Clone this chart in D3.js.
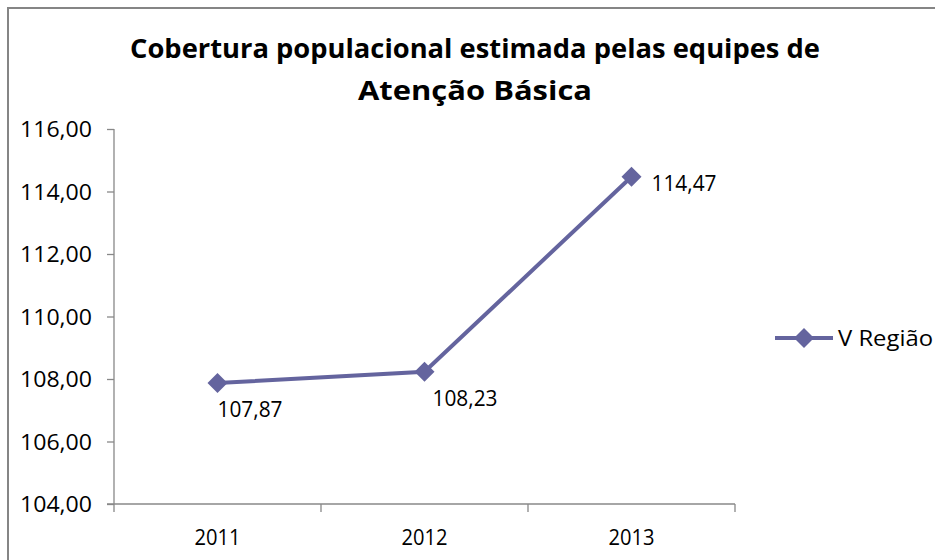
<!DOCTYPE html>
<html>
<head>
<meta charset="utf-8">
<script src="https://d3js.org/d3.v7.min.js"></script>
<style>
  html, body { margin:0; padding:0; background:#fff; }
  svg text { font-family: "Open Sans", "DejaVu Sans", sans-serif; fill:#000; }
</style>
</head>
<body>
<svg width="935" height="560"></svg>
<script>
// data
var years = ["2011", "2012", "2013"];
var values = [107.87, 108.23, 114.47];
var yTicks = [104, 106, 108, 110, 112, 114, 116];
var seriesName = "V Região";
var titleLines = ["Cobertura populacional estimada pelas equipes de", "Atenção Básica"];

var lineColor = "#64649e";
var svg = d3.select("svg");

// chart border
svg.append("rect")
  .attr("x", 8).attr("y", 8)
  .attr("width", 940).attr("height", 570)
  .attr("fill", "none")
  .attr("stroke", "#858585")
  .attr("stroke-width", 2);

// title
svg.selectAll(".title").data(titleLines).enter().append("text")
  .attr("class", "title")
  .attr("x", 475)
  .attr("y", function(d, i) { return 58 + i * 42; })
  .attr("text-anchor", "middle")
  .attr("font-size", 27)
  .attr("font-weight", "bold")
  .attr("textLength", function(d, i) { return i == 0 ? 690 : 234; })
  .attr("lengthAdjust", "spacingAndGlyphs")
  .text(function(d) { return d; });

var x = d3.scaleBand().domain(years).range([114, 735]);
var y = d3.scaleLinear().domain([104, 116]).range([504, 129]);

var fmt = function(v) { return d3.format(".2f")(v).replace(".", ","); };

// y axis
var ya = svg.append("g")
  .attr("transform", "translate(114,0)")
  .call(d3.axisLeft(y).tickValues(yTicks).tickFormat(fmt).tickSize(7).tickPadding(15));
ya.select(".domain").attr("stroke", "#888").attr("stroke-width", 1.3).attr("d", "M0,129V504");
ya.selectAll(".tick line").attr("stroke", "#888").attr("stroke-width", 1.3);
ya.selectAll(".tick text")
  .attr("font-size", 22)
  .attr("dy", "0.36em")
  .attr("x", -22)
  .attr("textLength", 72)
  .attr("lengthAdjust", "spacingAndGlyphs")
  .attr("fill", "#000");

// x axis
var xa = svg.append("g")
  .attr("transform", "translate(0,504)")
  .call(d3.axisBottom(x).tickSize(0).tickPadding(33));
xa.select(".domain").attr("stroke", "#888").attr("stroke-width", 1.3).attr("d", "M107,0H735");
xa.selectAll(".tick text")
  .attr("font-size", 22)
  .attr("dy", "0.36em")
  .attr("textLength", 46)
  .attr("lengthAdjust", "spacingAndGlyphs")
  .attr("fill", "#000");
// category separator ticks
xa.selectAll(".sep").data(years.concat(["end"])).enter().append("line")
  .attr("class", "sep")
  .attr("x1", function(d, i) { return i < years.length ? x(d) : x.range()[1]; })
  .attr("x2", function(d, i) { return i < years.length ? x(d) : x.range()[1]; })
  .attr("y1", 0).attr("y2", 8)
  .attr("stroke", "#888").attr("stroke-width", 1.3);

var cx = function(d, i) { return x(years[i]) + x.bandwidth() / 2; };

// line
var line = d3.line()
  .x(function(d, i) { return cx(d, i); })
  .y(function(d) { return y(d); });
svg.append("path")
  .datum(values)
  .attr("d", line)
  .attr("fill", "none")
  .attr("stroke", lineColor)
  .attr("stroke-width", 4);

var diamond = function(px, py) {
  return "M" + px + "," + (py - 10) + "L" + (px + 10) + "," + py + "L" + px + "," + (py + 10) + "L" + (px - 10) + "," + py + "Z";
};

svg.selectAll(".pt").data(values).enter().append("path")
  .attr("class", "pt")
  .attr("d", function(d, i) { return diamond(cx(d, i), y(d)); })
  .attr("fill", lineColor);

// data labels
var labelOff = [[0, 26], [8, 26], [20, 6]];
svg.selectAll(".lbl").data(values).enter().append("text")
  .attr("class", "lbl")
  .attr("x", function(d, i) { return cx(d, i) + labelOff[i][0]; })
  .attr("y", function(d, i) { return y(d) + labelOff[i][1]; })
  .attr("dy", "0.36em")
  .attr("font-size", 22)
  .attr("textLength", 65)
  .attr("lengthAdjust", "spacingAndGlyphs")
  .text(function(d) { return fmt(d); });

// legend
var lg = svg.append("g").attr("transform", "translate(775,338)");
lg.append("line").attr("x1", 0).attr("x2", 58).attr("y1", 0).attr("y2", 0)
  .attr("stroke", lineColor).attr("stroke-width", 4);
lg.append("path").attr("d", diamond(29, 0)).attr("fill", lineColor);
lg.append("text").attr("x", 63).attr("dy", "0.36em")
  .attr("font-size", 22)
  .attr("textLength", 95)
  .attr("lengthAdjust", "spacingAndGlyphs")
  .text(seriesName);
</script>
</body>
</html>
